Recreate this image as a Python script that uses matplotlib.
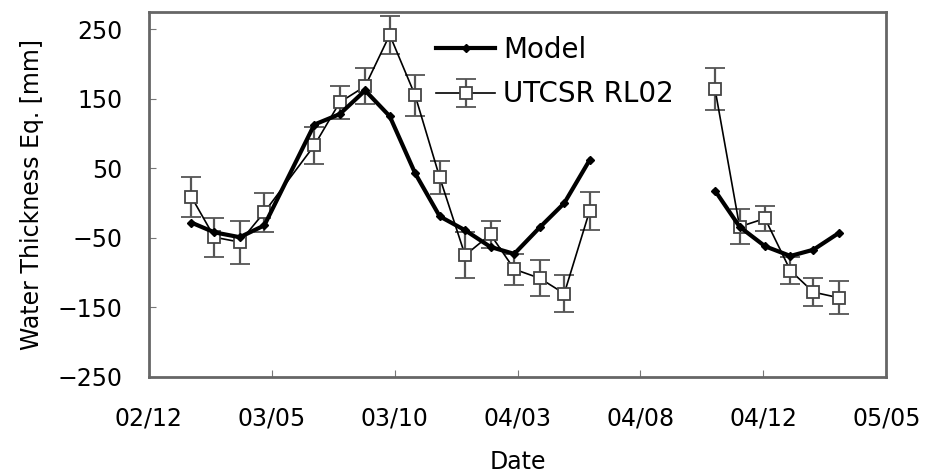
import numpy as np
import matplotlib
matplotlib.use('Agg')
import matplotlib.pyplot as plt

# monthly values (first of month); the NaN row breaks the line over the data gap
months = ['2003-02-01', '2003-03-01', '2003-04-01', '2003-05-01', '2003-07-01',
          '2003-08-01', '2003-09-01', '2003-10-01', '2003-11-01', '2003-12-01',
          '2004-01-01', '2004-02-01', '2004-03-01', '2004-04-01', '2004-05-01',
          '2004-06-01', '2004-08-01', '2004-11-01', '2004-12-01', '2005-01-01',
          '2005-02-01', '2005-03-01', '2005-04-01']
model = [-28, -42, -49, -32, 113, 128, 162, 125, 43, -19, -39, -63, -73, -35, 0,
         62, np.nan, 18, -34, -62, -76, -67, -43]
utcsr = [9, -49, -56, -13, 83, 145, 168, 242, 155, 37, -75, -45, -95, -108, -130,
         -11, np.nan, 164, -34, -22, -97, -128, -136]
utcsr_err = [29, 28, 31, 28, 26, 24, 26, 27, 29, 24, 33, 20, 22, 26, 26, 27,
             np.nan, 30, 25, 18, 19, 20, 24]

tick_labels = ['02/12', '03/05', '03/10', '04/03', '04/08', '04/12', '05/05']
y_ticks = [-250, -150, -50, 50, 150, 250]

x = np.array(months, dtype='datetime64[D]')
start = np.datetime64('2002-12-11')
tick_pos = [start + np.timedelta64(150 * i, 'D') for i in range(len(tick_labels))]

plt.rcParams['font.family'] = 'DejaVu Sans'
fig = plt.figure(figsize=(9.3, 4.76), dpi=100)
ax = fig.add_axes([0.160, 0.208, 0.793, 0.767])

eb = ax.errorbar(x, utcsr, yerr=utcsr_err, color='black', lw=1.2, marker='s',
                 ms=8.5, mfc='white', mec='#444444', mew=1.3, ecolor='#555555',
                 elinewidth=1.6, capsize=7, capthick=1.6, zorder=2)
ln, = ax.plot(x, model, color='black', lw=3, marker='D', ms=4.5, zorder=3)

ax.set_xlim(start, start + np.timedelta64(900, 'D'))
ax.set_ylim(-250, 275)
ax.set_xticks(tick_pos)
ax.set_xticklabels(tick_labels)
ax.set_yticks(y_ticks)
ax.tick_params(direction='in', length=5, color='#777777', labelsize=17)
ax.tick_params(axis='y', pad=19)
ax.tick_params(axis='x', pad=21)
for s in ax.spines.values():
    s.set_color('#666666')
    s.set_linewidth(2)

ax.set_xlabel('Date', fontsize=17, labelpad=14)
ax.set_ylabel('Water Thickness Eq. [mm]', fontsize=17, labelpad=10)

ax.legend([ln, eb], ['Model', 'UTCSR RL02'], loc='upper left',
          bbox_to_anchor=(0.375, 0.965), frameon=False, fontsize=20,
          handlelength=2.1, handletextpad=0.3, labelspacing=0.6, borderaxespad=0)

fig.savefig('out.png', dpi=100)
